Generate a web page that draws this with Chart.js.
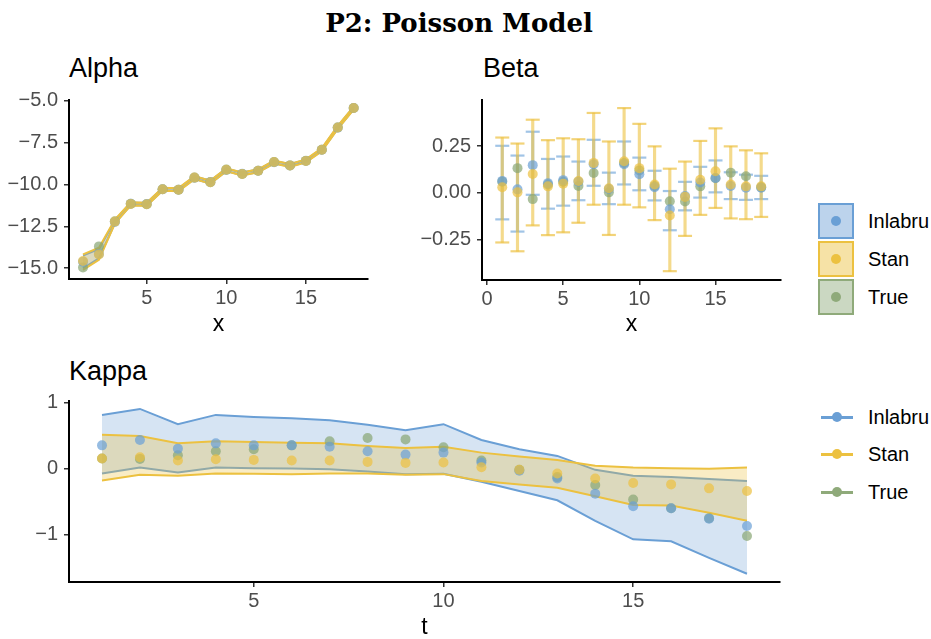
<!DOCTYPE html>
<html>
<head>
<meta charset="utf-8">
<script src="https://cdn.jsdelivr.net/npm/chart.js@4.4.1/dist/chart.umd.min.js"></script>
<style>
  body { margin: 0; width: 931px; height: 639px; overflow: hidden; background: #fff; position: relative;
         font-family: "Liberation Sans", Arial, sans-serif; }
  .abs { position: absolute; }
  .main-title { left: 0; width: 918px; top: 10px; text-align: center; font: bold 26px/26px "DejaVu Serif", serif; color: #000; }
  .panel-title { font-size: 27px; line-height: 27px; color: #000; }
  .key-row { left: 818px; height: 36px; width: 113px; }
  .key-box { position: absolute; left: 0; top: 0; width: 36px; height: 36px; box-sizing: border-box; border: 2px solid; }
  .key-dot { position: absolute; width: 10px; height: 10px; border-radius: 50%; }
  .key-line { position: absolute; left: 3px; top: 17px; width: 32px; height: 2.5px; }
  .key-ldot { position: absolute; left: 14px; top: 13px; width: 10px; height: 10px; border-radius: 50%; }
  .key-text { position: absolute; left: 50px; top: 0; font-size: 20px; line-height: 36px; color: #000; }
</style>
</head>
<body>
<div class="abs main-title">P2: Poisson Model</div>
<div class="abs panel-title" style="left:69px;top:55px">Alpha</div>
<div class="abs panel-title" style="left:483px;top:55px">Beta</div>
<div class="abs panel-title" style="left:69px;top:358px">Kappa</div>

<div class="abs" style="left:0;top:82px;width:380px;height:258px"><canvas id="alphaChart"></canvas></div>
<div class="abs" style="left:400px;top:82px;width:400px;height:258px"><canvas id="betaChart"></canvas></div>
<div class="abs" style="left:0;top:383px;width:800px;height:262px"><canvas id="kappaChart"></canvas></div>

<div id="boxLegend"></div>
<div id="lineLegend"></div>

<script>
// x positions (index / time)
const tVals = [1, 2, 3, 4, 5, 6, 7, 8, 9, 10, 11, 12, 13, 14, 15, 16, 17, 18];
const methods = ["Inlabru", "Stan", "True"];

// Alpha
const alphaInlabru   = [-14.62, -14.15, -12.24, -11.15, -11.17, -10.29, -10.31, -9.60, -9.85, -9.13, -9.36, -9.18, -8.67, -8.86, -8.59, -7.92, -6.60, -5.43];
const alphaStan      = [-14.57, -14.18, -12.22, -11.16, -11.18, -10.28, -10.31, -9.59, -9.86, -9.12, -9.37, -9.18, -8.66, -8.86, -8.59, -7.92, -6.59, -5.43];
const alphaTrue      = [-14.96, -13.70, -12.20, -11.15, -11.18, -10.28, -10.31, -9.59, -9.86, -9.11, -9.37, -9.18, -8.66, -8.86, -8.58, -7.92, -6.59, -5.43];
const alphaInlabruLo = [-15.02, -14.42, -12.32, -11.23, -11.25, -10.36, -10.38, -9.67, -9.93, -9.20, -9.44, -9.25, -8.74, -8.93, -8.66, -7.99, -6.67, -5.50];
const alphaInlabruHi = [-14.25, -13.85, -12.15, -11.08, -11.10, -10.21, -10.24, -9.52, -9.78, -9.05, -9.29, -9.11, -8.59, -8.79, -8.52, -7.85, -6.53, -5.36];
const alphaStanLo    = [-15.10, -14.50, -12.34, -11.25, -11.27, -10.37, -10.40, -9.68, -9.95, -9.21, -9.46, -9.27, -8.75, -8.95, -8.68, -8.01, -6.68, -5.52];
const alphaStanHi    = [-14.18, -13.78, -12.10, -11.07, -11.09, -10.19, -10.22, -9.50, -9.77, -9.03, -9.28, -9.09, -8.57, -8.77, -8.50, -7.83, -6.50, -5.34];

// Beta
const betaInlabru   = [0.064, 0.019, 0.148, 0.052, 0.068, 0.060, 0.153, 0.021, 0.153, 0.099, 0.030, -0.087, -0.016, 0.055, 0.080, 0.037, 0.028, 0.028];
const betaStan      = [0.030, 0.003, 0.101, 0.035, 0.049, 0.063, 0.160, 0.025, 0.169, 0.132, 0.045, -0.120, -0.021, 0.070, 0.115, 0.045, 0.035, 0.035];
const betaTrue      = [0.060, 0.132, -0.033, 0.045, 0.060, 0.037, 0.106, 0.003, 0.160, 0.120, 0.037, -0.044, -0.046, 0.035, 0.078, 0.108, 0.089, 0.030];
const betaInlabruLo = [-0.141, -0.206, -0.010, -0.084, -0.068, -0.039, 0.038, -0.060, 0.045, 0.014, -0.040, -0.199, -0.093, -0.025, 0.003, -0.033, -0.037, -0.033];
const betaInlabruHi = [0.251, 0.199, 0.326, 0.181, 0.194, 0.167, 0.283, 0.108, 0.274, 0.188, 0.118, 0.010, 0.059, 0.139, 0.173, 0.110, 0.097, 0.091];
const betaStanLo    = [-0.264, -0.311, -0.173, -0.225, -0.210, -0.159, -0.063, -0.224, -0.063, -0.077, -0.145, -0.417, -0.229, -0.117, -0.080, -0.136, -0.140, -0.128];
const betaStanHi    = [0.295, 0.263, 0.390, 0.281, 0.291, 0.286, 0.426, 0.274, 0.452, 0.368, 0.248, 0.129, 0.167, 0.277, 0.344, 0.248, 0.227, 0.211];

// Kappa
const kappaInlabru   = [0.35, 0.43, 0.30, 0.38, 0.35, 0.35, 0.33, 0.26, 0.21, 0.24, 0.09, -0.035, -0.15, -0.38, -0.57, -0.60, -0.76, -0.87];
const kappaStan      = [0.15, 0.17, 0.12, 0.14, 0.13, 0.12, 0.12, 0.10, 0.085, 0.09, 0.02, -0.02, -0.075, -0.15, -0.22, -0.24, -0.30, -0.34];
const kappaTrue      = [0.15, 0.145, 0.20, 0.26, 0.29, 0.35, 0.41, 0.46, 0.44, 0.32, 0.12, -0.02, -0.13, -0.25, -0.47, -0.60, -0.75, -1.02];
const kappaInlabruLo = [-0.075, 0.015, -0.06, 0.015, 0.005, 0.0, -0.01, -0.045, -0.085, -0.08, -0.20, -0.34, -0.48, -0.79, -1.07, -1.10, -1.35, -1.59];
const kappaInlabruHi = [0.81, 0.90, 0.67, 0.81, 0.78, 0.76, 0.73, 0.66, 0.58, 0.67, 0.43, 0.29, 0.19, -0.02, -0.11, -0.13, -0.16, -0.19];
const kappaStanLo    = [-0.18, -0.095, -0.11, -0.075, -0.08, -0.085, -0.075, -0.075, -0.095, -0.085, -0.19, -0.24, -0.29, -0.42, -0.55, -0.56, -0.67, -0.79];
const kappaStanHi    = [0.51, 0.49, 0.38, 0.41, 0.40, 0.39, 0.38, 0.34, 0.31, 0.33, 0.24, 0.18, 0.13, 0.04, 0.015, 0.005, -0.005, 0.015];

// tick labels
const alphaXTicks = [5, 10, 15];
const alphaYTicks = [-15, -12.5, -10, -7.5, -5];
const betaXTicks = [0, 5, 10, 15];
const betaYTicks = [-0.25, 0, 0.25];
const kappaXTicks = [5, 10, 15];
const kappaYTicks = [-1, 0, 1];

// colours
const lineCol = { Inlabru: "rgb(106,159,213)", Stan: "rgb(236,193,64)", True: "rgb(143,170,122)" };
const pointCol = { Inlabru: "rgba(106,159,213,0.7)", Stan: "rgba(236,193,64,0.7)", True: "rgba(135,165,115,0.7)" };
const fillCol = { Inlabru: "rgba(106,159,213,0.28)", Stan: "rgba(236,193,64,0.3)" };
const legendFill = { Inlabru: "#bcd3ec", Stan: "#f6e2a6", True: "#cbd8c2" };

const pts = arr => tVals.map((x, i) => ({ x, y: arr[i] }));
const minus = s => String(s).replace('-', '\u2212');

const tickFont = { family: "Liberation Sans", size: 20 };
const titleFont = { family: "Liberation Sans", size: 23, lineHeight: 1 };

const makeScales = (o) => ({
  x: {
    type: 'linear', min: o.xmin, max: o.xmax, offset: false,
    afterBuildTicks: s => { s.ticks = o.xticks.map(v => ({ value: v })); },
    afterFit: s => { s.height = o.xh; },
    grid: { offset: false, drawOnChartArea: false, drawTicks: true, tickLength: 5, color: '#333', lineWidth: 1.5 },
    border: { display: true, color: '#000', width: 2 },
    ticks: { font: tickFont, color: '#4d4d4d', padding: 2, maxRotation: 0, callback: v => minus(v) },
    title: { display: true, text: o.xtitle, font: titleFont, color: '#000', padding: { top: 0, bottom: o.tpad } }
  },
  y: {
    type: 'linear', min: o.ymin, max: o.ymax, beginAtZero: false,
    afterBuildTicks: s => { s.ticks = o.yticks.map(v => ({ value: v })); },
    afterFit: s => { s.width = o.yw; },
    grid: { drawOnChartArea: false, drawTicks: true, tickLength: 5, color: '#333', lineWidth: 1.5 },
    border: { display: true, color: '#000', width: 2 },
    ticks: { font: tickFont, color: '#4d4d4d', padding: 6, callback: v => minus(o.yfmt(v)) }
  }
});

const baseOptions = (scales, padding) => ({
  responsive: true,
  maintainAspectRatio: false,
  animation: false,
  layout: { padding },
  plugins: { legend: { display: false }, tooltip: { enabled: false }, title: { display: false } },
  scales
});

const bandLines = (lo, hi, name, baseIdx, orderHi) => ([
  { type: 'line', data: pts(hi), borderColor: lineCol[name], borderWidth: 2, pointRadius: 0,
    fill: { target: baseIdx + 1 }, backgroundColor: fillCol[name], order: orderHi },
  { type: 'line', data: pts(lo), borderColor: lineCol[name], borderWidth: 2, pointRadius: 0,
    fill: false, order: orderHi - 1 }
]);

// lower order is drawn later (on top): True, then Inlabru, then Stan
const pointSet = (arr, name, order, r) => ({
  type: 'line', data: pts(arr), showLine: false, pointRadius: r, pointBorderWidth: 0,
  pointBackgroundColor: pointCol[name], borderColor: pointCol[name], order
});

// Alpha panel
new Chart(document.getElementById('alphaChart'), {
  type: 'line',
  data: {
    datasets: [
      ...bandLines(alphaInlabruLo, alphaInlabruHi, 'Inlabru', 0, 20),
      ...bandLines(alphaStanLo, alphaStanHi, 'Stan', 2, 18),
      pointSet(alphaTrue, 'True', 3, 5),
      pointSet(alphaInlabru, 'Inlabru', 2, 5),
      pointSet(alphaStan, 'Stan', 1, 5)
    ]
  },
  options: baseOptions(makeScales({
    xmin: 0.12, xmax: 18.9, xticks: alphaXTicks, xh: 61, xtitle: 'x', tpad: 3.5,
    ymin: -15.65, ymax: -4.95, yticks: alphaYTicks, yw: 69, yfmt: v => v.toFixed(1)
  }), { left: 0, right: 12, top: 9.5, bottom: 0 })
});

// Beta panel: error bars as thin floating bars, caps as line-shaped points
const errBar = (lo, hi, col, order) => ({
  type: 'bar', data: tVals.map((x, i) => ({ x, y: [lo[i], hi[i]] })), barThickness: 2.5,
  grouped: false, backgroundColor: col, borderWidth: 0, order
});
const errCaps = (lo, hi, col, order) => ({
  type: 'line', showLine: false,
  data: [...pts(lo), ...pts(hi)],
  pointStyle: 'line', pointRadius: 7, pointBorderWidth: 2.2, pointBorderColor: col, borderColor: col, order
});

new Chart(document.getElementById('betaChart'), {
  type: 'line',
  data: {
    datasets: [
      errBar(betaInlabruLo, betaInlabruHi, 'rgba(130,176,222,0.6)', 20),
      errCaps(betaInlabruLo, betaInlabruHi, 'rgba(130,176,222,0.75)', 19),
      errBar(betaStanLo, betaStanHi, 'rgba(236,193,64,0.6)', 18),
      errCaps(betaStanLo, betaStanHi, 'rgba(236,193,64,0.7)', 17),
      pointSet(betaTrue, 'True', 3, 5),
      pointSet(betaInlabru, 'Inlabru', 2, 5),
      pointSet(betaStan, 'Stan', 1, 5)
    ]
  },
  options: baseOptions(makeScales({
    xmin: -0.33, xmax: 19.3, xticks: betaXTicks, xh: 60, xtitle: 'x', tpad: 3.5,
    ymin: -0.464, ymax: 0.495, yticks: betaYTicks, yw: 82, yfmt: v => v.toFixed(2)
  }), { left: 0, right: 19, top: 9, bottom: 0 })
});

// Kappa panel
new Chart(document.getElementById('kappaChart'), {
  type: 'line',
  data: {
    datasets: [
      ...bandLines(kappaInlabruLo, kappaInlabruHi, 'Inlabru', 0, 20),
      ...bandLines(kappaStanLo, kappaStanHi, 'Stan', 2, 18),
      pointSet(kappaTrue, 'True', 3, 5),
      pointSet(kappaInlabru, 'Inlabru', 2, 5),
      pointSet(kappaStan, 'Stan', 1, 5)
    ]
  },
  options: baseOptions(makeScales({
    xmin: 0.13, xmax: 18.87, xticks: kappaXTicks, xh: 63, xtitle: 't', tpad: 5.5,
    ymin: -1.715, ymax: 1.02, yticks: kappaYTicks, yw: 69, yfmt: v => String(v)
  }), { left: 0, right: 20, top: 11, bottom: 0 })
});

// legends
const boxTops = [203, 241, 279];
const lineTops = [399, 436, 474];
document.getElementById('boxLegend').innerHTML = methods.map((m, i) =>
  `<div class="abs key-row" style="top:${boxTops[i]}px">
     <div class="key-box" style="border-color:${lineCol[m]};background:${legendFill[m]}">
       <div class="key-dot" style="left:11px;top:11px;background:${lineCol[m]}"></div></div>
     <div class="key-text">${m}</div></div>`).join('');
document.getElementById('lineLegend').innerHTML = methods.map((m, i) =>
  `<div class="abs key-row" style="top:${lineTops[i]}px">
     <div class="key-line" style="background:${lineCol[m]}"></div>
     <div class="key-ldot" style="background:${lineCol[m]}"></div>
     <div class="key-text">${m}</div></div>`).join('');
</script>
</body>
</html>
